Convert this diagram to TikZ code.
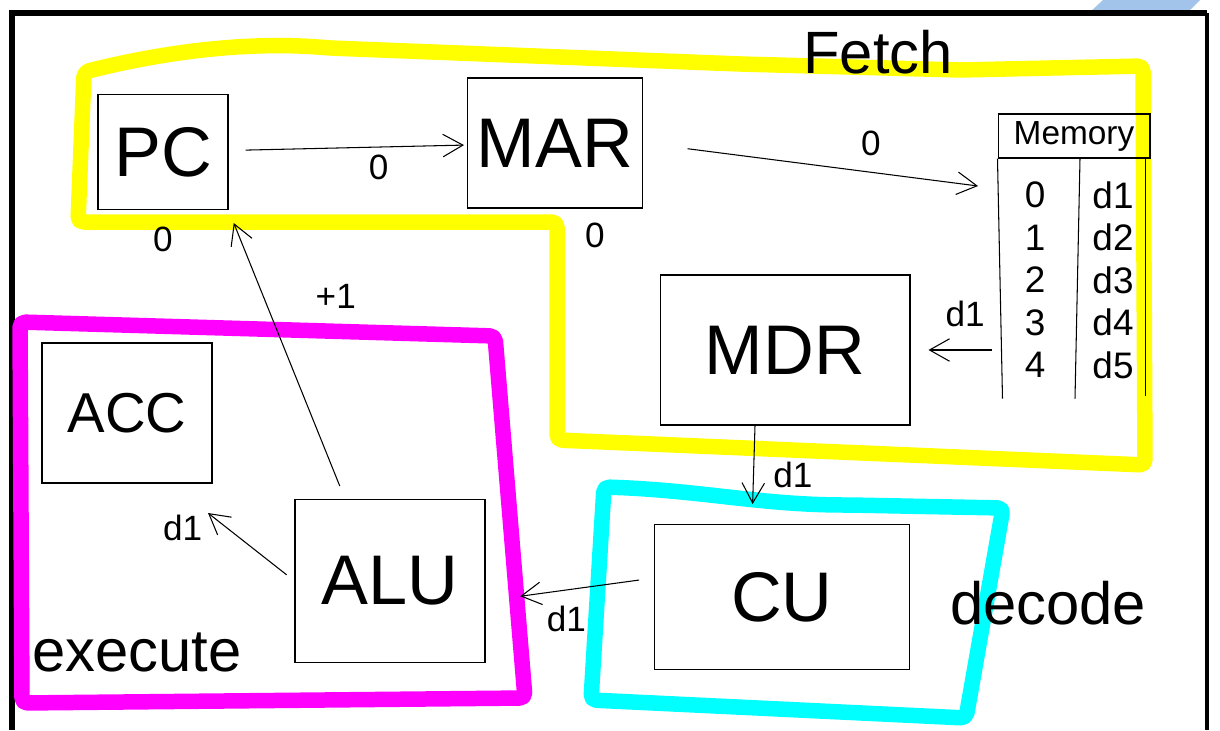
\documentclass[tikz,border=0pt]{standalone}
\usepackage{fontspec}
\setmainfont{Liberation Sans}
\usetikzlibrary{arrows.meta,positioning,calc}
\definecolor{hlyellow}{RGB}{255,255,0}
\definecolor{hlmagenta}{RGB}{255,0,255}
\definecolor{hlcyan}{RGB}{0,255,255}
\definecolor{tabblue}{RGB}{163,196,234}

\begin{document}
\begin{tikzpicture}[
    x=0.02cm, y=-0.02cm,
    reg/.style={rectangle, draw, line width=0.6pt, inner sep=0pt, font=\fontsize{40}{44}\selectfont},
    cell/.style={inner sep=0pt, font=\fontsize{21}{23}\selectfont},
    lbl/.style={inner sep=1pt, font=\fontsize{20}{22}\selectfont},
    stage/.style={inner sep=0pt, font=\fontsize{34}{38}\selectfont},
    zone/.style={line width=0.31cm, line join=round, rounded corners=3pt},
    arr/.style={-{Straight Barb[length=0.4cm, width=0.45cm]}, line width=0.6pt}
]
    \useasboundingbox (0,0) rectangle (1220,730);
    % frame of the slide
    \fill[tabblue] (1103,0) -- (1200,0) -- (1186,14) -- (1088,14) -- cycle;
    \draw[line width=0.13cm] (12,730) -- (12,13) -- (1207,13);
    \draw[line width=0.07cm] (1207,13) -- (1207,730);

    % highlighted stages
    \draw[zone, hlyellow] (84,72) .. controls (180,48) and (260,42) .. (330,48) -- (740,64) -- (960,70) -- (1143,66)
        -- (1145,465) -- (557,440) -- (557,222) -- (78,222) -- cycle;
    \draw[zone, hlmagenta] (20,322) -- (495,336) -- (525,698) -- (22,703) -- cycle;
    \draw[zone, hlcyan] (604,487) .. controls (700,490) and (760,505) .. (850,505) -- (1003,508)
        -- (966,718) -- (591,700) -- cycle;

    \node[stage] (fetch) at (878,52) {Fetch};
    \node[stage] (decode) at (1048,603) {decode};
    \node[stage] (execute) at (137,652) {execute};

    % registers
    \node[reg, minimum width=2.6cm, minimum height=2.3cm] (pc) at (163,152) {PC};
    \node[reg, minimum width=3.5cm, minimum height=2.6cm] (mar) at (555,143) {MAR};
    \node[reg, minimum width=5cm, minimum height=3cm] (mdr) at (785,350) {MDR};
    \node[reg, minimum width=3.4cm, minimum height=2.8cm, font=\fontsize{32}{36}\selectfont] (acc) at (127,413) {ACC};
    \node[reg, minimum width=3.8cm, minimum height=3.26cm] (alu) at (390,581) {ALU};
    \node[reg, minimum width=5.1cm, minimum height=2.9cm] (cu) at (782,597) {CU};

    % memory table
    \node[draw, line width=0.6pt, minimum width=3.04cm, minimum height=0.88cm, font=\fontsize{19}{21}\selectfont] (mem) at (1074,136) {Memory};
    \draw[line width=0.6pt] (mem.south west) -- ++(5,240);
    \draw[line width=0.6pt] ([xshift=0.12cm]mem.south) -- ++(-5,240);
    \draw[line width=0.6pt] ([xshift=-0.1cm]mem.south east) -- ++(0,237);
    \foreach \a/\d [count=\i from 0] in {0/d1,1/d2,2/d3,3/d4,4/d5} {
        \node[cell] (a\i) at (1035,195+42.5*\i) {\a};
        \node[cell] (d\i) at (1113,195+42.5*\i) {\d};
    }
    \coordinate (in0) at (978,186);
    \coordinate (out0) at (992,350);
    \coordinate (d1out) at (208,513);

    \node[lbl, below=0.3cm of pc] (pc0) {0};
    \node[lbl, below=0.25cm of mar, xshift=0.8cm] (mar0) {0};

    % data flow
    \draw[arr, shorten <=0.34cm, shorten >=0.06cm] (pc) -- (mar) node[lbl, pos=0.63, below=3pt] {0};
    \draw[arr, shorten <=0.9cm] (mar.east) -- (in0) node[lbl, pos=0.68, above=8pt] {0};
    \draw[arr, shorten >=0.36cm] (out0) -- (mdr.east) node[lbl, pos=0.33, above=12pt] {d1};
    \draw[arr, shorten >=0.4cm] ([xshift=-0.6cm]mdr.south) -- ([xshift=-0.6cm]cu.north) node[lbl, pos=0.5, right=10pt] {d1};
    \draw[arr, shorten <=0.3cm, shorten >=0.7cm] ([yshift=0.38cm]cu.west) -- ([yshift=-0.4cm]alu.east) node[lbl, pos=0.52, below=8pt] {d1};
    \draw[arr, shorten <=0.28cm, shorten >=0.28cm] ([xshift=-0.9cm]alu.north) -- (pc.south east) node[lbl, pos=0.7, right=1cm] {+1};
    \draw[arr, shorten <=0.2cm] (alu.west) -- (d1out) node[lbl, at end, anchor=north east, xshift=-2pt] {d1};
\end{tikzpicture}
\end{document}
